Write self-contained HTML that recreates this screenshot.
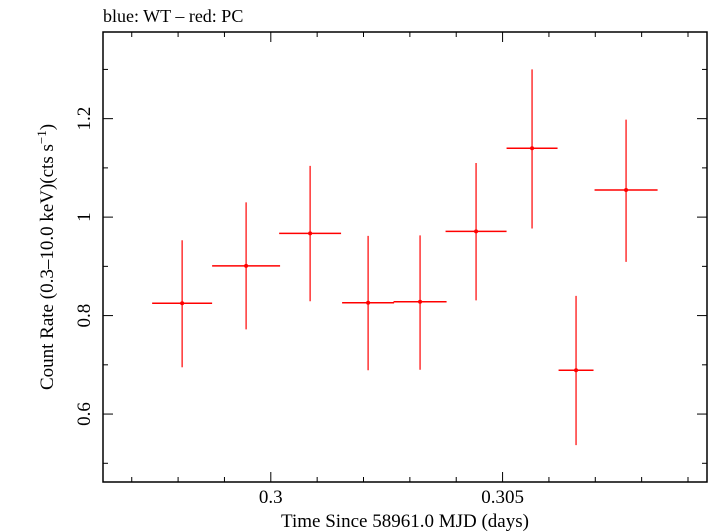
<!DOCTYPE html>
<html><head><meta charset="utf-8"><style>
body{margin:0;background:#fff}
svg{display:block;font-family:"Liberation Serif",serif}
</style></head><body>
<svg id="chart" width="709" height="532">
<text x="103" y="22" font-size="18">blue: WT – red: PC</text>
<rect x="103" y="32" width="604" height="450" fill="none" stroke="#000" stroke-width="1.5"/>
<g id="ticks"></g>
<g id="series"></g>
<text x="405" y="527" font-size="19" text-anchor="middle">Time Since 58961.0 MJD (days)</text>
<text transform="translate(53,257) rotate(-90)" font-size="19" text-anchor="middle">Count Rate (0.3–10.0 keV)(cts s<tspan dy="-7" font-size="13">−1</tspan><tspan dy="7">)</tspan></text>
</svg>
<script>
const times=[0.298087,0.299467,0.300848,0.302099,0.303220,0.304428,0.305636,0.306585,0.307664];
const halfWidths=[0.000647,0.000733,0.000668,0.000561,0.000572,0.000658,0.000550,0.000377,0.000680];
const rates=[0.825,0.901,0.967,0.826,0.828,0.971,1.14,0.689,1.055];
const rateLo=[0.695,0.772,0.829,0.689,0.690,0.831,0.977,0.537,0.909];
const rateHi=[0.953,1.03,1.104,0.962,0.963,1.11,1.30,0.840,1.198];
const xTickLabels=["0.3","0.305"];
const yTickLabels=["0.6","0.8","1","1.2"];
const X0=103,X1=707,Y0=32,Y1=482,xmin=0.29638,xmax=0.30941,ymin=0.462,ymax=1.376;
const sx=v=>X0+(v-xmin)/(xmax-xmin)*(X1-X0);
const sy=v=>Y1-(v-ymin)/(ymax-ymin)*(Y1-Y0);
const NS="http://www.w3.org/2000/svg";
function mk(tag,attrs,parent){const e=document.createElementNS(NS,tag);for(const k in attrs)e.setAttribute(k,attrs[k]);parent.appendChild(e);return e;}
const tg=document.getElementById('ticks');
for(let i=297;i<=309;i++){const v=i/1000;const x=sx(v);const major=(i%5===0);const L=major?10:5;
 let t=mk('line',{x1:x,x2:x,y1:Y1,y2:Y1-L,stroke:'#000'},tg);
 
 
 t=mk('line',{x1:x,x2:x,y1:Y0,y2:Y0+L,stroke:'#000'},tg);
 
 }
xTickLabels.forEach(s=>{const t=mk('text',{x:sx(parseFloat(s)),y:503,'font-size':19,'text-anchor':'middle'},tg);t.textContent=s;
 
 });
for(let i=5;i<=13;i++){const v=i/10;const y=sy(v);const major=(i%2===0);const L=major?10:5;
 let t=mk('line',{x1:X0,x2:X0+L,y1:y,y2:y,stroke:'#000'},tg);
 
 
 t=mk('line',{x1:X1,x2:X1-L,y1:y,y2:y,stroke:'#000'},tg);
 
 }
yTickLabels.forEach(s=>{const y=sy(parseFloat(s));const t=mk('text',{transform:`translate(90,${y}) rotate(-90)`,'font-size':19,'text-anchor':'middle'},tg);t.textContent=s;
 
 });
const sg=document.getElementById('series');
times.forEach((t,i)=>{const g=mk('g',{},sg);
 
 
 mk('line',{x1:sx(t-halfWidths[i]),x2:sx(t+halfWidths[i]),y1:sy(rates[i]),y2:sy(rates[i]),stroke:'#f00','stroke-width':1.5},g);
 mk('line',{x1:sx(t),x2:sx(t),y1:sy(rateLo[i]),y2:sy(rateHi[i]),stroke:'#f00','stroke-width':1.2},g);
 mk('circle',{cx:sx(t),cy:sy(rates[i]),r:2,fill:'#f00'},g);});
</script>
</body></html>
